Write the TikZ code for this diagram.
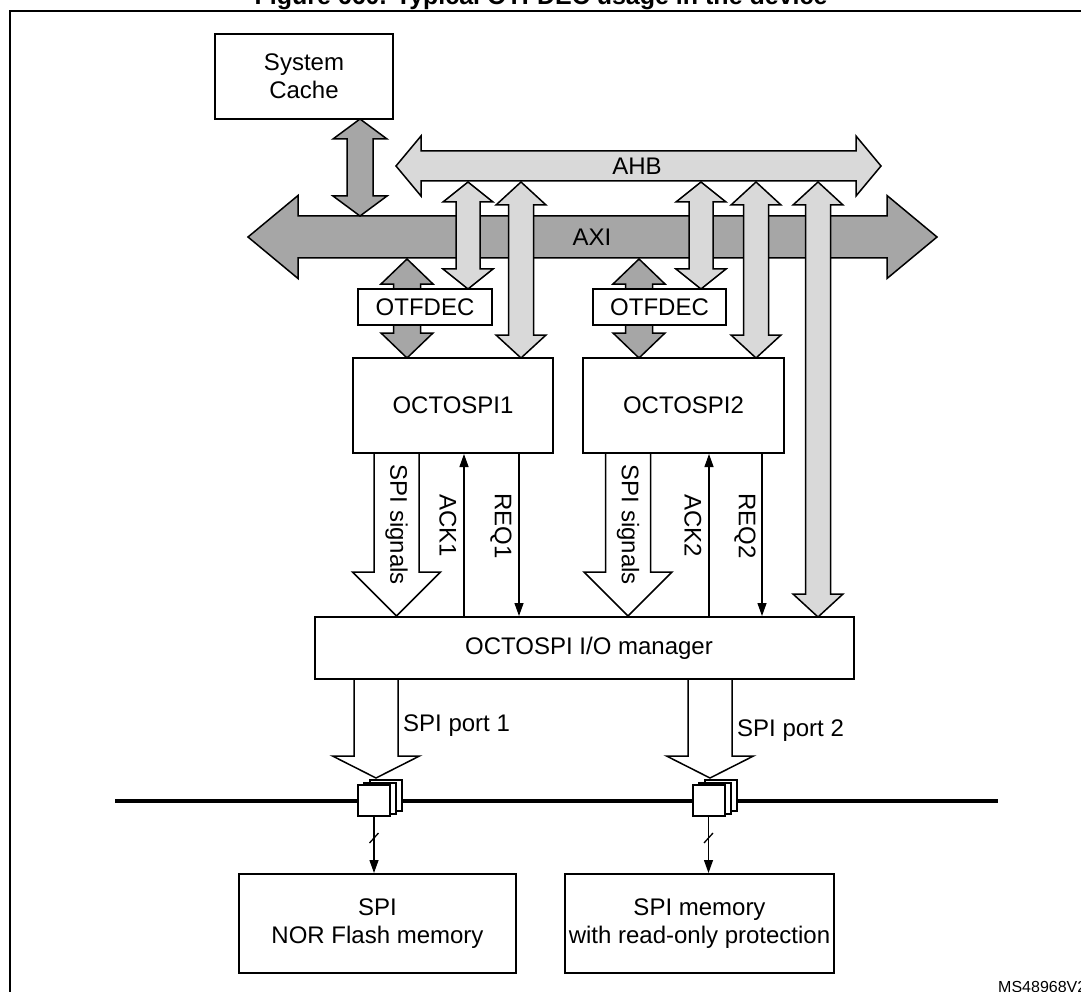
\documentclass[tikz,border=0pt]{standalone}
\usepackage{fontspec}
\setmainfont{Liberation Sans}
\usetikzlibrary{arrows.meta}
\definecolor{darkfill}{RGB}{166,166,166}
\definecolor{lightfill}{RGB}{217,217,217}
\newcommand{\fs}{\fontsize{24}{28}\selectfont}
% vertical double block arrow: x, ytop, ybot, shaft half, head half, head len, style
\newcommand{\blockVD}[7]{\draw[#7] (#1,#2) -- ({#1+#5},{#2+#6}) -- ({#1+#4},{#2+#6}) -- ({#1+#4},{#3-#6}) -- ({#1+#5},{#3-#6}) -- (#1,#3) -- ({#1-#5},{#3-#6}) -- ({#1-#4},{#3-#6}) -- ({#1-#4},{#2+#6}) -- ({#1-#5},{#2+#6}) -- cycle;}
% horizontal double block arrow: y, xleft, xright, shaft half, head half, head len, style
\newcommand{\blockHD}[7]{\draw[#7] (#2,#1) -- ({#2+#6},{#1-#5}) -- ({#2+#6},{#1-#4}) -- ({#3-#6},{#1-#4}) -- ({#3-#6},{#1-#5}) -- (#3,#1) -- ({#3-#6},{#1+#5}) -- ({#3-#6},{#1+#4}) -- ({#2+#6},{#1+#4}) -- ({#2+#6},{#1+#5}) -- cycle;}
% single downward block arrow: x, ytop, ytip, shaft half, head half, head len, style
\newcommand{\blockDown}[7]{\draw[#7] ({#1-#4},#2) -- ({#1+#4},#2) -- ({#1+#4},{#3-#6}) -- ({#1+#5},{#3-#6}) -- (#1,#3) -- ({#1-#5},{#3-#6}) -- ({#1-#4},{#3-#6}) -- cycle;}
\begin{document}
\begin{tikzpicture}[x=1pt,y=-1pt,
  box/.style={draw, line width=2pt, fill=white, inner sep=0pt, align=center, font=\fs},
  lab/.style={inner sep=0pt, font=\fs},
  darkarrow/.style={line width=1.5pt, draw=black, fill=darkfill},
  lightarrow/.style={line width=1.5pt, draw=black, fill=lightfill},
  hollow/.style={line width=1.5pt, draw=black, fill=white},
  sigline/.style={line width=1.3pt, -{Triangle[length=13pt,width=9pt]}},
  icon/.style={draw, line width=2pt, fill=white, minimum width=32pt, minimum height=31pt, inner sep=0pt}]
\useasboundingbox (0,0) rectangle (1081,992);
\clip (0,0) rectangle (1081,992);
% frame and title
\draw[line width=2pt] (10,11) rectangle (1100,1010);
\node[anchor=base, inner sep=0pt, font=\bfseries\fontsize{25}{30}\selectfont] (title) at (541,4.5) {Figure 660. Typical OTFDEC usage in the device};
% buses
\blockHD{237}{248}{937}{21}{41.5}{50}{darkarrow}
\node[lab] (axi) at (592,237) {AXI};
\blockHD{166}{396}{881}{15}{30}{25}{lightarrow}
\node[lab] (ahb) at (637,166) {AHB};
% system cache
\node[box, minimum width=178pt, minimum height=85pt] (cache) at (304,76.5) {System\\Cache};
\blockVD{360}{119}{216}{13}{27}{20}{darkarrow}
% AHB connections
\blockVD{468}{182}{289}{12}{25}{20}{lightarrow}
\blockVD{521}{182}{358}{12.5}{25}{23}{lightarrow}
\blockVD{701}{182}{289}{12}{25}{20}{lightarrow}
\blockVD{756}{182}{358}{12.5}{25}{23}{lightarrow}
\blockVD{818}{182}{617}{12.5}{25}{23}{lightarrow}
% AXI to OCTOSPI through OTFDEC
\blockVD{407}{259}{358}{13.5}{26}{25}{darkarrow}
\blockVD{639}{259}{358}{13.5}{26}{25}{darkarrow}
\node[box, minimum width=134pt, minimum height=36pt] (otf1) at (425,307) {OTFDEC};
\node[box, minimum width=133pt, minimum height=36pt] (otf2) at (659.5,307) {OTFDEC};
% OCTOSPI blocks
\node[box, minimum width=200pt, minimum height=95pt] (oct1) at (453,405.5) {OCTOSPI1};
\node[box, minimum width=201pt, minimum height=95pt] (oct2) at (683.5,405.5) {OCTOSPI2};
\node[box, minimum width=539pt, minimum height=62pt] (mgr) at (584.5,648) {\hspace*{9pt}OCTOSPI I/O manager};
% SPI signals
\blockDown{396.5}{453}{616}{22.5}{44}{44}{hollow}
\blockDown{628}{453}{616}{22.5}{44}{44}{hollow}
\node[lab, rotate=-90] (sig1) at (396.5,525) {SPI signals};
\node[lab, rotate=-90] (sig2) at (628,525) {SPI signals};
% ACK / REQ
\coordinate (xa1) at (464,0);
\coordinate (xr1) at (519,0);
\coordinate (xa2) at (709,0);
\coordinate (xr2) at (762,0);
\draw[sigline] (xa1 |- mgr.north) -- (xa1 |- oct1.south);
\draw[sigline] (xr1 |- oct1.south) -- (xr1 |- mgr.north);
\draw[sigline] (xa2 |- mgr.north) -- (xa2 |- oct2.south);
\draw[sigline] (xr2 |- oct2.south) -- (xr2 |- mgr.north);
\node[lab, rotate=-90] (ack1) at (448,526) {ACK1};
\node[lab, rotate=-90] (req1) at (501,526) {REQ1};
\node[lab, rotate=-90] (ack2) at (693,526) {ACK2};
\node[lab, rotate=-90] (req2) at (745,526) {REQ2};
% SPI ports
\blockDown{376}{679}{778}{22}{43.5}{22}{hollow}
\blockDown{710}{679}{778}{22}{43.5}{22}{hollow}
\node[lab, anchor=west] (port1) at (403,726) {SPI port 1};
\node[lab, anchor=west] (port2) at (737,731) {SPI port 2};
% external bus
\coordinate (busL) at (115,801);
\coordinate (busR) at (998,801);
\draw[line width=4pt] (busL) -- (busR);
\node[icon] (ic1c) at (386,795.5) {};
\node[icon] (ic1b) at (380,798) {};
\node[icon] (ic1) at (374,800.5) {};
\node[icon] (ic2c) at (720.5,795.5) {};
\node[icon] (ic2b) at (714.5,798) {};
\node[icon] (ic2) at (708.5,800.5) {};
% memories
\node[box, minimum width=277pt, minimum height=99pt] (mem1) at (377.5,923.5) {SPI\\NOR Flash memory};
\node[box, minimum width=269pt, minimum height=99pt] (mem2) at (699.5,923.5) {SPI memory\\with read-only protection};
\draw[sigline] (ic1.south) -- (ic1.south |- mem1.north);
\draw[sigline] (ic2.south) -- (ic2.south |- mem2.north);
\draw[line width=1.3pt] (369.5,843) -- (378.5,833);
\draw[line width=1.3pt] (704,843) -- (713,833);
\node[anchor=west, inner sep=0pt, font=\fontsize{16}{19}\selectfont] (ms) at (998,987) {MS48968V2};
\end{tikzpicture}
\end{document}
